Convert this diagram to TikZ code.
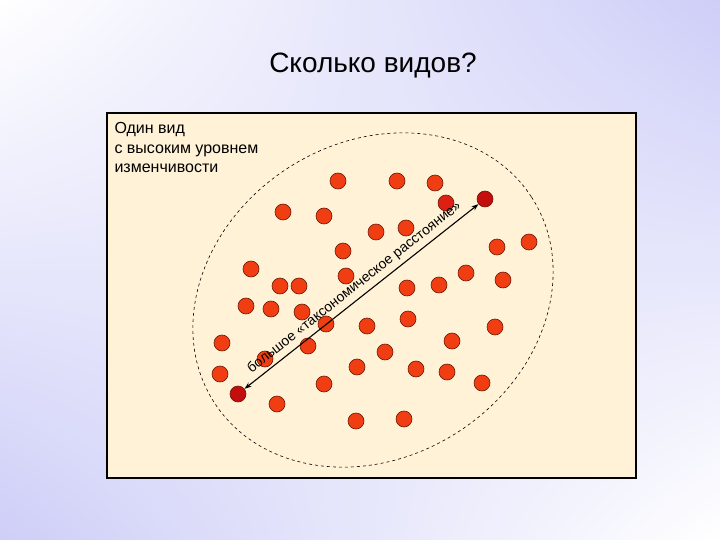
\documentclass[tikz,border=0pt]{standalone}
\usepackage{fontspec}
\setmainfont{Liberation Sans}
\usetikzlibrary{shadings,arrows.meta}
\definecolor{lav}{RGB}{206,206,248}
\definecolor{cream}{RGB}{255,242,214}
\definecolor{spotfill}{RGB}{240,62,18}
\definecolor{spotred}{RGB}{222,32,20}
\definecolor{spotdark}{RGB}{196,14,14}
\definecolor{spotrim}{RGB}{110,24,8}
\begin{document}
\begin{tikzpicture}[x=1pt,y=-1pt,
  spot/.style={circle,draw=spotrim,line width=0.6pt,fill=spotfill,
    minimum size=16pt,inner sep=0pt},
  farspot/.style={spot,fill=spotdark}]
\useasboundingbox (0,0) rectangle (720,540);
\shade[upper left=white,upper right=lav,lower left=lav,lower right=white]
 (0,0) rectangle (720,540);
\node (title) at (373,66) {\fontsize{28}{32}\selectfont Сколько видов?};
\path[draw,fill=cream,line width=1.2pt] (107,113) rectangle (636,478);
\node[anchor=north west,align=left,font=\fontsize{16}{19.5}\selectfont]
 (note) at (111,119) {Один вид\\с высоким уровнем\\изменчивости};
% boundary of the species
\path[draw,dashed,line width=0.6pt,rotate around={33:(373,300)}]
 (373,300) ellipse [x radius=189,y radius=157];
% individuals
\node[spot] (d1) at (338,181) {}; \node[spot] (d2) at (397,181) {};
\node[spot] (d3) at (435,183) {}; \node[spot,fill=spotred] (d4) at (446,203) {};
\node[farspot] (d5) at (485,199) {}; \node[spot] (d6) at (283,212) {};
\node[spot] (d7) at (324,216) {}; \node[spot] (d8) at (376,232) {};
\node[spot] (d9) at (406,228) {}; \node[spot] (d10) at (343,251) {};
\node[spot] (d11) at (497,247) {}; \node[spot] (d12) at (529,242) {};
\node[spot] (d13) at (251,269) {}; \node[spot] (d14) at (346,276) {};
\node[spot] (d15) at (466,273) {}; \node[spot] (d16) at (280,286) {};
\node[spot] (d17) at (299,286) {}; \node[spot] (d18) at (407,288) {};
\node[spot] (d19) at (439,285) {}; \node[spot] (d20) at (503,280) {};
\node[spot] (d21) at (246,306) {}; \node[spot] (d22) at (271,309) {};
\node[spot] (d23) at (302,312) {}; \node[spot] (d24) at (326,324) {};
\node[spot] (d25) at (367,326) {}; \node[spot] (d26) at (408,319) {};
\node[spot] (d27) at (495,327) {}; \node[spot] (d28) at (222,343) {};
\node[spot] (d29) at (308,346) {}; \node[spot] (d30) at (385,352) {};
\node[spot] (d31) at (452,341) {}; \node[spot] (d32) at (265,359) {};
\node[spot] (d33) at (357,367) {}; \node[spot] (d34) at (416,369) {};
\node[spot] (d35) at (447,372) {}; \node[spot] (d36) at (482,383) {};
\node[spot] (d37) at (220,374) {}; \node[spot] (d38) at (324,384) {};
\node[farspot] (d39) at (238,394) {}; \node[spot] (d40) at (277,404) {};
\node[spot] (d41) at (356,421) {}; \node[spot] (d42) at (404,419) {};
% the longest distance
\path[draw,line width=1.1pt,{Stealth[length=7pt,width=5pt]}-{Stealth[length=7pt,width=5pt]}]
 (d39) -- (d5) node[midway,above=1pt,sloped,font=\fontsize{14}{16}\selectfont] (dist)
 {большое «таксономическое расстояние»};
\end{tikzpicture}
\end{document}
